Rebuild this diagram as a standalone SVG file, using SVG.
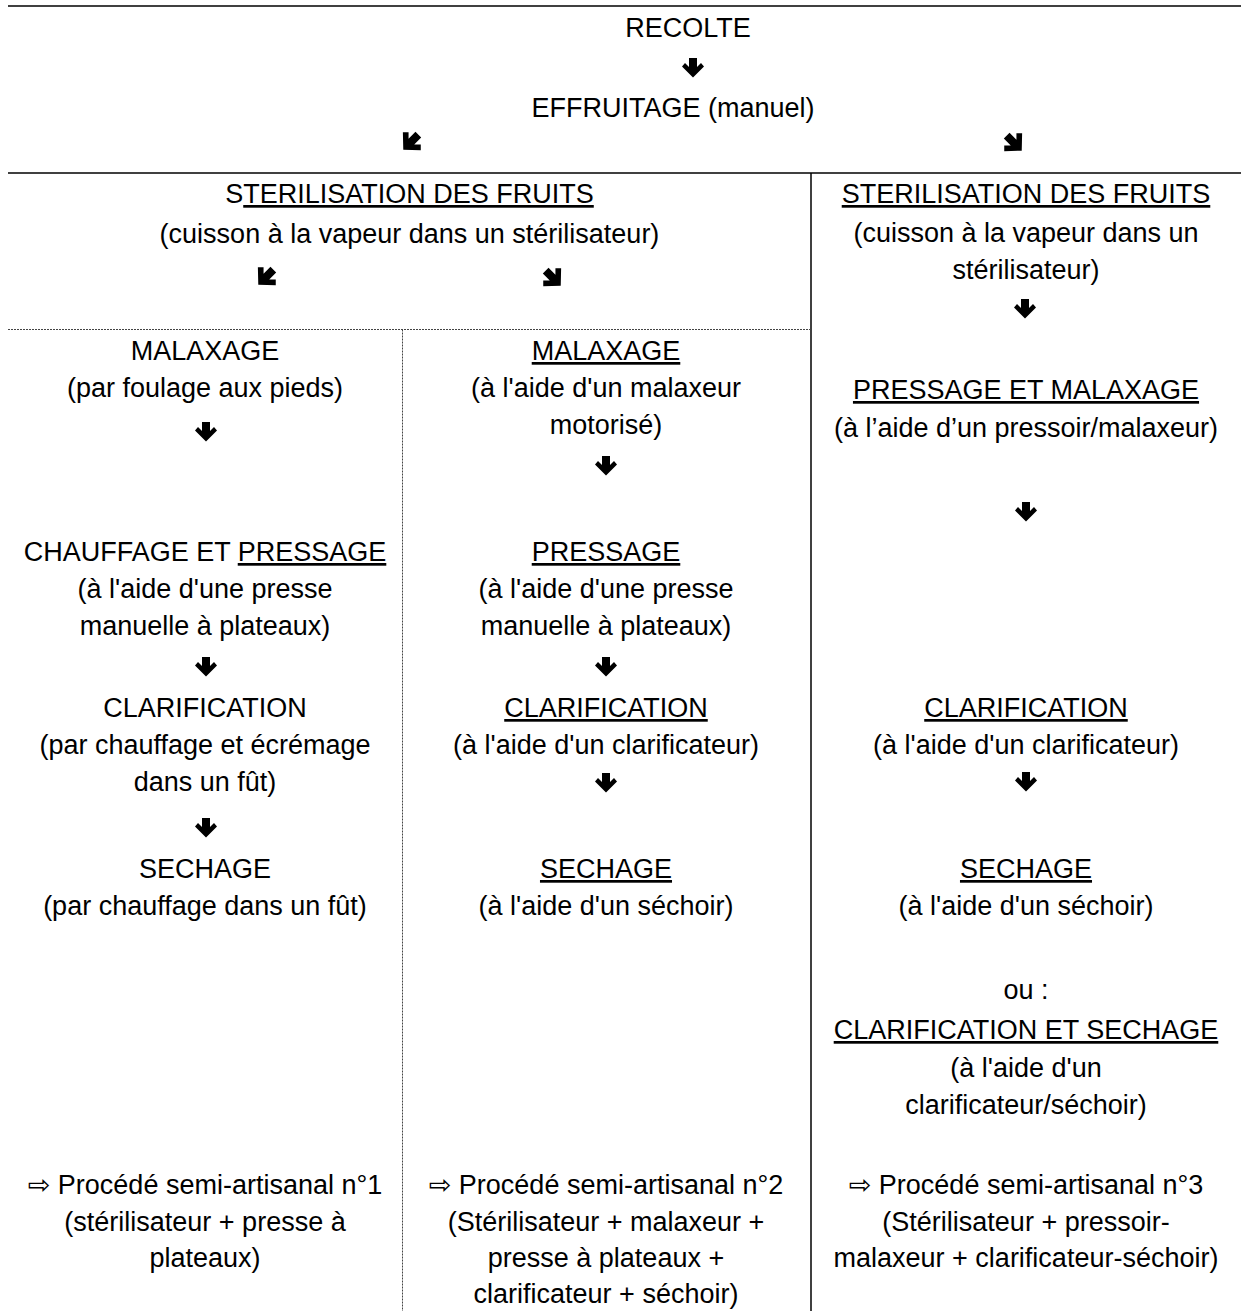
<svg xmlns="http://www.w3.org/2000/svg" xmlns:xlink="http://www.w3.org/1999/xlink" width="1241" height="1311" viewBox="0 0 1241 1311">
<style>
text{font-family:"Liberation Sans","DejaVu Sans",sans-serif;font-size:27px;fill:#000;text-anchor:middle}
.u{text-decoration:underline;text-decoration-thickness:2px}
.solid{stroke:#000;stroke-width:1.5;fill:none}
.dash{stroke:#444;stroke-width:1;stroke-dasharray:2 1;fill:none}
.arr{fill:#000}
</style>
<defs>
<path id="ad" d="M-4,-10 H4 V-1 L8,-5 L11,-1.5 L0,9.5 L-11,-1.5 L-8,-5 L-4,-1 Z"/>
<path id="add" d="M-3.5,-9 H3.5 V-0.5 L7.5,-4.5 L11,-1 L0,9.5 L-11,-1 L-7.5,-4.5 L-3.5,-0.5 Z"/>
</defs>
<rect width="1241" height="1311" fill="#fff"/>
<g id="grid">
<line class="solid" x1="8" y1="6" x2="1241" y2="6"/>
<line class="solid" x1="8" y1="173" x2="1241" y2="173"/>
<line class="solid" x1="811" y1="173" x2="811" y2="1311"/>
<line class="dash" x1="8" y1="329.5" x2="811" y2="329.5"/>
<line class="dash" x1="402.5" y1="329.5" x2="402.5" y2="1311"/>
</g>
<g id="connectors" class="arr">
<use href="#ad" transform="translate(693,68)"/>
<use href="#add" transform="translate(411,142) rotate(45) scale(1.15)"/>
<use href="#add" transform="translate(1014,143) rotate(-45) scale(1.15)"/>
<use href="#add" transform="translate(266,277) rotate(45) scale(1.15)"/>
<use href="#add" transform="translate(553,278) rotate(-45) scale(1.15)"/>
<use href="#ad" transform="translate(1025,309)"/>
<use href="#ad" transform="translate(206,432)"/>
<use href="#ad" transform="translate(206,667)"/>
<use href="#ad" transform="translate(206,828)"/>
<use href="#ad" transform="translate(606,466)"/>
<use href="#ad" transform="translate(606,667)"/>
<use href="#ad" transform="translate(606,783)"/>
<use href="#ad" transform="translate(1026,512)"/>
<use href="#ad" transform="translate(1026,782)"/>
</g>
<g id="recolte"><text x="688" y="37">RECOLTE</text></g>
<g id="effruitage"><text x="673" y="117">EFFRUITAGE (manuel)</text></g>
<g id="sterilisation-a">
<text x="409.5" y="203">S<tspan class="u">TERILISATION DES FRUITS</tspan></text>
<text x="409.5" y="243">(cuisson à la vapeur dans un stérilisateur)</text>
</g>
<g id="sterilisation-b">
<text x="1026" y="203" class="u">STERILISATION DES FRUITS</text>
<text x="1026" y="242">(cuisson à la vapeur dans un</text>
<text x="1026" y="279">stérilisateur)</text>
</g>
<g id="malaxage-1">
<text x="205" y="360">MALAXAGE</text>
<text x="205" y="397">(par foulage aux pieds)</text>
</g>
<g id="pressage-1">
<text x="205" y="561">CHAUFFAGE ET <tspan class="u">PRESSAGE</tspan></text>
<text x="205" y="598">(à l'aide d'une presse</text>
<text x="205" y="635">manuelle à plateaux)</text>
</g>
<g id="clarification-1">
<text x="205" y="717">CLARIFICATION</text>
<text x="205" y="754">(par chauffage et écrémage</text>
<text x="205" y="791">dans un fût)</text>
</g>
<g id="sechage-1">
<text x="205" y="878">SECHAGE</text>
<text x="205" y="915">(par chauffage dans un fût)</text>
</g>
<g id="procede-1">
<text x="205" y="1194">⇨ Procédé semi-artisanal n°1</text>
<text x="205" y="1231">(stérilisateur + presse à</text>
<text x="205" y="1267">plateaux)</text>
</g>
<g id="malaxage-2">
<text x="606" y="360" class="u">MALAXAGE</text>
<text x="606" y="397">(à l'aide d'un malaxeur</text>
<text x="606" y="434">motorisé)</text>
</g>
<g id="pressage-2">
<text x="606" y="561" class="u">PRESSAGE</text>
<text x="606" y="598">(à l'aide d'une presse</text>
<text x="606" y="635">manuelle à plateaux)</text>
</g>
<g id="clarification-2">
<text x="606" y="717" class="u">CLARIFICATION</text>
<text x="606" y="754">(à l'aide d'un clarificateur)</text>
</g>
<g id="sechage-2">
<text x="606" y="878" class="u">SECHAGE</text>
<text x="606" y="915">(à l'aide d'un séchoir)</text>
</g>
<g id="procede-2">
<text x="606" y="1194">⇨ Procédé semi-artisanal n°2</text>
<text x="606" y="1231">(Stérilisateur + malaxeur +</text>
<text x="606" y="1267">presse à plateaux +</text>
<text x="606" y="1303">clarificateur + séchoir)</text>
</g>
<g id="pressage-malaxage-3">
<text x="1026" y="399" class="u">PRESSAGE ET MALAXAGE</text>
<text x="1026" y="437">(à l’aide d’un pressoir/malaxeur)</text>
</g>
<g id="clarification-3">
<text x="1026" y="717" class="u">CLARIFICATION</text>
<text x="1026" y="754">(à l'aide d'un clarificateur)</text>
</g>
<g id="sechage-3">
<text x="1026" y="878" class="u">SECHAGE</text>
<text x="1026" y="915">(à l'aide d'un séchoir)</text>
</g>
<g id="clarification-sechage-3">
<text x="1026" y="999">ou :</text>
<text x="1026" y="1039" class="u">CLARIFICATION ET SECHAGE</text>
<text x="1026" y="1077">(à l'aide d'un</text>
<text x="1026" y="1114">clarificateur/séchoir)</text>
</g>
<g id="procede-3">
<text x="1026" y="1194">⇨ Procédé semi-artisanal n°3</text>
<text x="1026" y="1231">(Stérilisateur + pressoir-</text>
<text x="1026" y="1267">malaxeur + clarificateur-séchoir)</text>
</g>
</svg>
